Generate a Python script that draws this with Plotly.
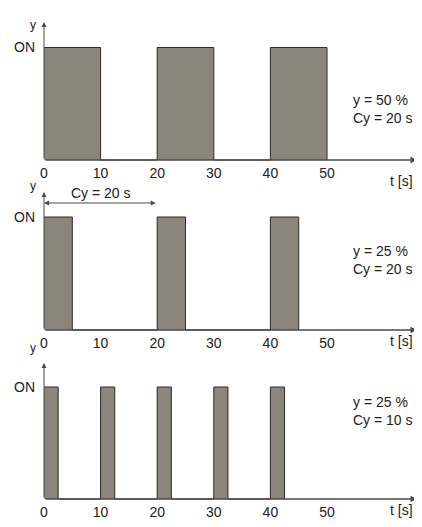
import plotly.graph_objects as go

# switching signals: time of each edge and the state after it (1 = ON)
t_50_20 = [0, 10, 20, 30, 40, 50]
s_50_20 = [1, 0, 1, 0, 1, 0]
t_25_20 = [0, 5, 20, 25, 40, 45]
s_25_20 = [1, 0, 1, 0, 1, 0]
t_25_10 = [0, 2.5, 10, 12.5, 20, 22.5, 30, 32.5, 40, 42.5]
s_25_10 = [1, 0, 1, 0, 1, 0, 1, 0, 1, 0]

x_ticks = [0, 10, 20, 30, 40, 50]
labels = ["y = 50 %<br>Cy = 20 s", "y = 25 %<br>Cy = 20 s", "y = 25 %<br>Cy = 10 s"]

# the page body adds an 8px margin, so the figure is drawn smaller and
# every reference pixel position is shifted by that offset
OFF = 8
W, H = 422 - OFF, 527 - 2 * OFF
X0_PX = 44 - OFF          # pixel of t = 0
PX_PER_S = 5.66
FONT = "Liberation Sans, Arial, sans-serif"
FILL = "#8c857c"
EDGE = "#2e2b28"
AXIS = "#4a4a4a"
TXT = "#222222"

# panel pixel boxes in reference pixels: (top, bottom, baseline, ON level, arrow top)
panels = [(0, 180, 160, 47.5, 22), (180, 355, 330, 217, 192), (355, 527, 499, 387, 363)]
signals = [(t_50_20, s_50_20), (t_25_20, s_25_20), (t_25_10, s_25_10)]

x_range = [-X0_PX / PX_PER_S, (W - X0_PX) / PX_PER_S]


def t_of(px):
    return (px - OFF - X0_PX) / PX_PER_S


def paper_y(px):
    return 1 - (px - OFF) / H


fig = go.Figure()
annotations = []

for i, ((top, bot, base, on, atop), (t, s), lab) in enumerate(zip(panels, signals, labels)):
    n = "" if i == 0 else str(i + 1)
    xa, ya = "x" + n, "y" + n
    top_p = max(top - OFF, 0)
    bot_p = min(bot - OFF, H)
    base_p = base - OFF
    scale = base - on
    y_range = [-(bot_p - base_p) / scale, (base_p - top_p) / scale]

    fig.add_trace(go.Scatter(x=t, y=s, mode="lines", line_shape="hv",
                             line=dict(color=EDGE, width=1),
                             fill="tozeroy", fillcolor=FILL,
                             hoverinfo="skip", showlegend=False,
                             xaxis=xa, yaxis=ya))

    fig.update_layout({
        "xaxis" + n: dict(domain=[0, 1], range=x_range, anchor="free",
                          position=1 - base_p / H, tickvals=x_ticks,
                          showline=False, showgrid=False, zeroline=False,
                          ticks="", ticklabelstandoff=3,
                          tickfont=dict(family=FONT, size=14, color=TXT)),
        "yaxis" + n: dict(domain=[1 - bot_p / H, 1 - top_p / H], range=y_range,
                          anchor="free", position=X0_PX / W,
                          tickvals=[1], ticktext=["ON"],
                          showline=False, showgrid=False, zeroline=False,
                          ticks="", ticklabelstandoff=9,
                          tickfont=dict(family=FONT, size=14, color=TXT)),
    })

    y_top = (base - atop) / scale
    # axis arrows
    annotations.append(dict(x=0, y=y_top, ax=0, ay=0, xref=xa, yref=ya, axref=xa, ayref=ya,
                            text="", showarrow=True, arrowhead=2, arrowsize=1,
                            arrowwidth=1, arrowcolor=AXIS))
    annotations.append(dict(x=t_of(417), y=0, ax=0, ay=0, xref=xa, yref=ya, axref=xa, ayref=ya,
                            text="", showarrow=True, arrowhead=2, arrowsize=1,
                            arrowwidth=1.3, arrowcolor=AXIS))
    # axis titles
    annotations.append(dict(x=t_of(33), y=paper_y(atop - 6), xref=xa, yref="paper", text="y",
                            showarrow=False, font=dict(family=FONT, size=12, color=TXT)))
    if i < 2:
        annotations.append(dict(x=t_of(401), y=paper_y(base + 21), xref=xa, yref="paper",
                                text="t [s]", showarrow=False,
                                font=dict(family=FONT, size=14, color=TXT)))
    else:
        annotations.append(dict(x=t_of(401), y=0, yanchor="bottom", xref=xa, yref="paper",
                                text="t [s]", showarrow=False, borderpad=0,
                                font=dict(family=FONT, size=14, color=TXT)))
    # duty / cycle text
    annotations.append(dict(x=t_of(351), y=paper_y(base - 0.62 * scale), xref=xa, yref="paper",
                            text=lab, showarrow=False, xanchor="left",
                            align="left", font=dict(family=FONT, size=14, color=TXT)))

# cycle-time dimension arrow in the middle panel
annotations.append(dict(x=0, y=1.124, ax=20, ay=1.124, xref="x2", yref="y2",
                        axref="x2", ayref="y2", text="", showarrow=True,
                        arrowhead=2, startarrowhead=2, arrowside="end+start",
                        arrowsize=1, arrowwidth=1, arrowcolor=AXIS))
annotations.append(dict(x=10, y=paper_y(193), xref="x2", yref="paper", text="Cy = 20 s",
                        showarrow=False, font=dict(family=FONT, size=14, color=TXT)))

fig.update_layout(width=W, height=H, margin=dict(l=0, r=0, t=0, b=0),
                  paper_bgcolor="white", plot_bgcolor="white",
                  annotations=annotations)

fig.write_html("out.html")
